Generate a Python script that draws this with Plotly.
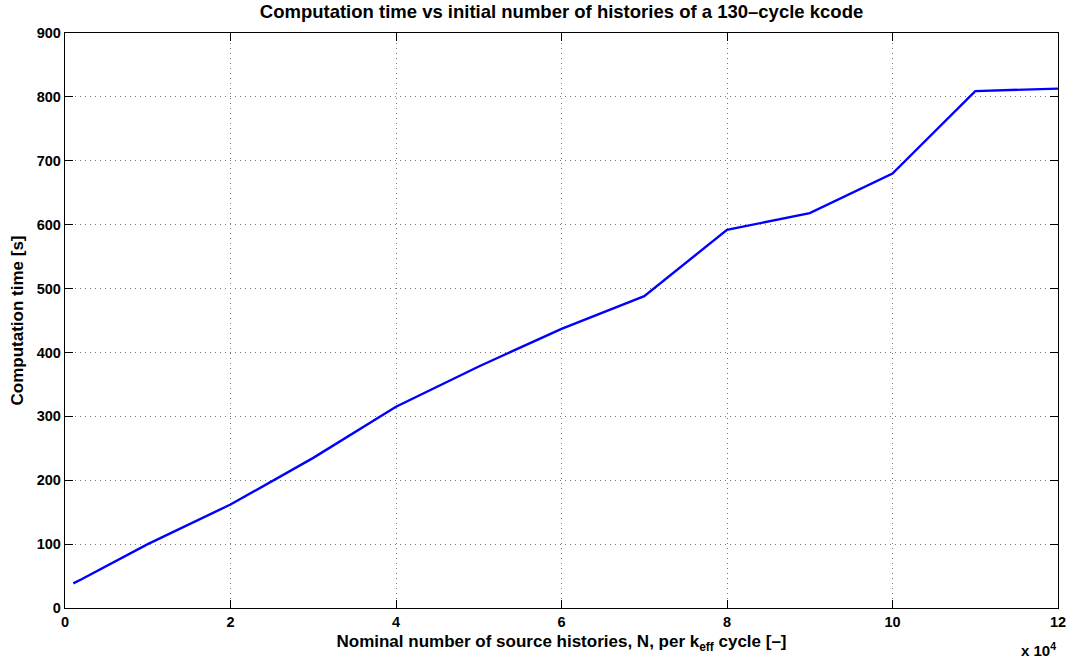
import plotly.graph_objects as go

histories = [1000, 2000, 10000, 20000, 30000, 40000, 50000, 60000, 70000, 80000, 90000, 100000, 110000, 120000]
comp_time = [38.5, 45, 100, 162, 235, 315, 378, 437, 488, 592, 618, 680, 809, 813]

x_tickvals = [0, 20000, 40000, 60000, 80000, 100000, 120000]
x_ticktext = ["0", "2", "4", "6", "8", "10", "12"]
y_tickvals = [0, 100, 200, 300, 400, 500, 600, 700, 800, 900]

FONT = "Liberation Sans, Arial, Helvetica, sans-serif"

fig = go.Figure()
fig.add_trace(go.Scatter(x=histories, y=comp_time, mode="lines",
                         line=dict(color="#0000ff", width=2.4), showlegend=False))

axis_common = dict(
    showline=True, linecolor="black", linewidth=1.3, mirror="ticks",
    ticks="inside", ticklen=8, tickcolor="black", tickwidth=1,
    showgrid=True, gridcolor="#777777", griddash="1px,4px", gridwidth=1,
    zeroline=False,
    tickfont=dict(family=FONT, size=14.5, color="black", weight="bold"),
)

fig.update_layout(
    width=1078, height=659,
    margin=dict(l=65, r=17, t=33, b=50),
    paper_bgcolor="white", plot_bgcolor="white",
    title=dict(text="Computation time vs initial number of histories of a 130–cycle kcode",
               x=0.5, xanchor="center", xref="paper", y=0.983, yref="container", yanchor="middle",
               font=dict(family=FONT, size=18.5, color="black", weight="bold")),
    xaxis=dict(range=[0, 120000], tickvals=x_tickvals, ticktext=x_ticktext,
               title=dict(text="Nominal number of source histories, N, per k<sub>eff</sub> cycle [–]",
                          standoff=6,
                          font=dict(family=FONT, size=17, color="black", weight="bold")),
               **axis_common),
    yaxis=dict(range=[0, 900], tickvals=y_tickvals,
               title=dict(text="Computation time [s]", standoff=8,
                          font=dict(family=FONT, size=17, color="black", weight="bold")),
               **axis_common),
    annotations=[dict(text="x 10<sup>4</sup>", x=1, xref="paper", xanchor="right",
                      y=0, yref="y domain", yanchor="top", yshift=-30, showarrow=False,
                      font=dict(family=FONT, size=15, color="black", weight="bold"))],
)

fig.write_html("out.html")
